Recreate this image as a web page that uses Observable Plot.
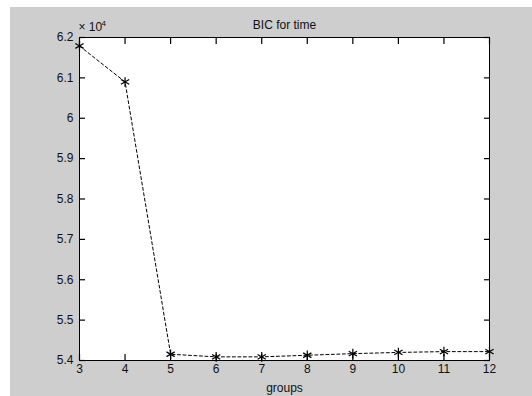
<!DOCTYPE html>
<html>
<head>
<meta charset="utf-8">
<script src="https://cdn.jsdelivr.net/npm/d3@7"></script>
<script src="https://cdn.jsdelivr.net/npm/@observablehq/plot@0.6"></script>
<style>
  html, body { margin: 0; padding: 0; background: #ffffff; }
  #fig { position: absolute; left: 10px; top: 7px; width: 522px; height: 389px; background: #cecece; }
  #fig svg { background: transparent; display: block; }
</style>
</head>
<body>
<div id="fig"></div>
<script>
// BIC (×10^4) for each number of groups
const groups = [3, 4, 5, 6, 7, 8, 9, 10, 11, 12];
const bic = [6.179, 6.090, 5.4155, 5.409, 5.409, 5.413, 5.417, 5.420, 5.422, 5.422];
const xTicks = [3, 4, 5, 6, 7, 8, 9, 10, 11, 12];
const yTicks = [5.4, 5.5, 5.6, 5.7, 5.8, 5.9, 6.0, 6.1, 6.2];

const data = groups.map((g, i) => ({g, v: bic[i]}));
const fmtY = d => String(+d.toFixed(1));
const none = () => "";
const font = "'Liberation Sans', Arial, sans-serif";
const ink = "#000";
const tk = 6; // inward tick length

const chart = Plot.plot({
  width: 522,
  height: 389,
  marginLeft: 69,
  marginRight: 43,
  marginTop: 30,
  marginBottom: 36,
  style: {fontFamily: font, fontSize: "12px", color: ink, background: "transparent"},
  x: {domain: [3, 12]},
  y: {domain: [5.4, 6.2]},
  marks: [
    Plot.frame({fill: "white"}),
    Plot.frame({stroke: ink, strokeWidth: 1}),
    // inward ticks on all four sides of the box
    Plot.axisX(xTicks, {anchor: "bottom", tickSize: tk, dy: -tk, tickFormat: none, label: null, stroke: ink, strokeWidth: 1.2}),
    Plot.axisX(xTicks, {anchor: "top", tickSize: tk, dy: tk, tickFormat: none, label: null, stroke: ink, strokeWidth: 1.2}),
    Plot.axisY(yTicks, {anchor: "left", tickSize: tk, dx: tk, tickFormat: none, label: null, stroke: ink, strokeWidth: 1.2}),
    Plot.axisY(yTicks, {anchor: "right", tickSize: tk, dx: -tk, tickFormat: none, label: null, stroke: ink, strokeWidth: 1.2}),
    // tick labels
    Plot.axisX(xTicks, {anchor: "bottom", tickSize: 0, tickPadding: 4, fontSize: 12, label: null, fill: "#111"}),
    Plot.axisY(yTicks, {anchor: "left", tickSize: 0, tickPadding: 6, tickFormat: fmtY, fontSize: 12, label: null, fill: "#111"}),
    Plot.line(data, {x: "g", y: "v", stroke: ink, strokeWidth: 1, strokeDasharray: "3,2.5"}),
    Plot.dot(data, {x: "g", y: "v", symbol: "asterisk", r: 4.5, stroke: ink, strokeWidth: 1.2}),
    // title, axis label and exponent
    Plot.text(["BIC for time"], {frameAnchor: "top", dy: -12, lineAnchor: "middle", fontSize: 12, fill: "#111"}),
    Plot.text(["groups"], {frameAnchor: "bottom", dy: 28, lineAnchor: "middle", fontSize: 12, fill: "#111"}),
    Plot.text(["× 10"], {frameAnchor: "top-left", dx: -1, dy: -10, lineAnchor: "middle", textAnchor: "start", fontSize: 12, fill: "#111"}),
    Plot.text(["4"], {frameAnchor: "top-left", dx: 22, dy: -14, lineAnchor: "middle", textAnchor: "start", fontSize: 8, fill: "#111"})
  ]
});
document.getElementById("fig").appendChild(chart);
</script>
</body>
</html>
